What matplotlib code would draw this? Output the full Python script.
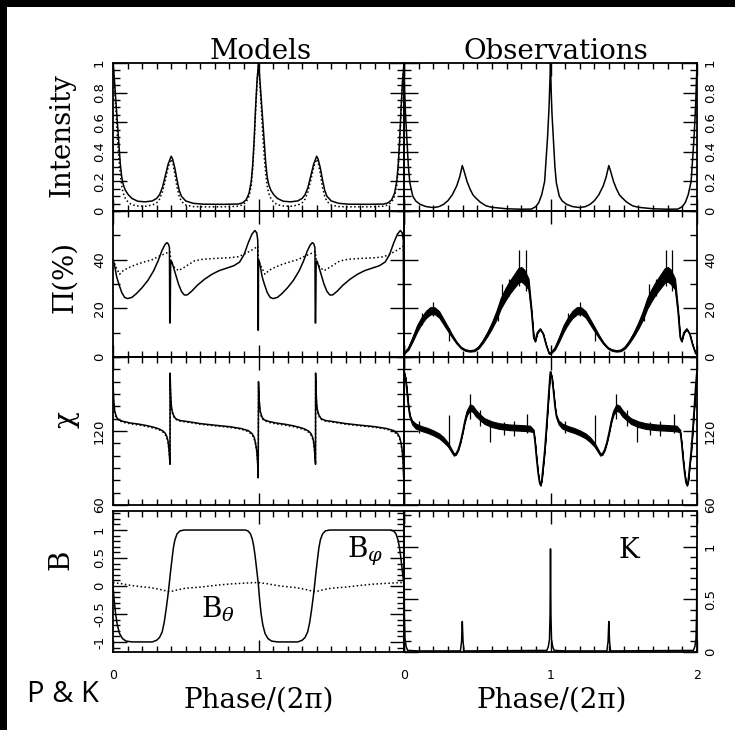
import numpy as np
import matplotlib
matplotlib.use("Agg")
import matplotlib.pyplot as plt
from matplotlib.patches import Rectangle
from matplotlib.ticker import FixedLocator, MultipleLocator, FixedFormatter

plt.rcParams["mathtext.fontset"] = "dejavuserif"

# ---------------- data (one rotation cycle, phase 0..1; the star repeats it) ----------------
# Intensity, models
int_mod_x = [0.0, 0.01, 0.02, 0.03, 0.04, 0.05, 0.06, 0.07, 0.085, 0.105, 0.13, 0.17, 0.22, 0.27,
             0.30, 0.32, 0.34, 0.36, 0.38, 0.40, 0.41, 0.425, 0.44, 0.455, 0.47, 0.50, 0.55, 0.62,
             0.75, 0.86, 0.89, 0.915, 0.935, 0.95, 0.96, 0.97, 0.98, 0.99]
int_mod_solid = [1.0, 0.88, 0.74, 0.60, 0.46, 0.32, 0.23, 0.18, 0.14, 0.11, 0.085, 0.066, 0.062, 0.068,
                 0.085, 0.11, 0.16, 0.24, 0.32, 0.37, 0.35, 0.29, 0.21, 0.14, 0.10, 0.068, 0.052, 0.046,
                 0.045, 0.047, 0.055, 0.075, 0.12, 0.20, 0.31, 0.48, 0.70, 0.88]
int_mod_dot = [1.0, 0.85, 0.68, 0.50, 0.36, 0.25, 0.17, 0.12, 0.085, 0.058, 0.042, 0.034, 0.032, 0.040,
               0.055, 0.08, 0.13, 0.21, 0.30, 0.35, 0.33, 0.25, 0.16, 0.10, 0.065, 0.040, 0.030, 0.028,
               0.028, 0.032, 0.042, 0.06, 0.10, 0.17, 0.28, 0.45, 0.67, 0.87]

# Intensity, observations
int_obs_x = [0.0, 0.005, 0.01, 0.02, 0.03, 0.04, 0.06, 0.08, 0.11, 0.15, 0.20, 0.24, 0.27, 0.30, 0.33,
             0.36, 0.38, 0.398, 0.41, 0.43, 0.45, 0.47, 0.49, 0.52, 0.56, 0.60, 0.70, 0.80, 0.87, 0.90,
             0.92, 0.94, 0.96, 0.98, 0.99, 0.995]
int_obs_y = [1.0, 0.80, 0.66, 0.48, 0.30, 0.19, 0.10, 0.068, 0.045, 0.030, 0.023, 0.030, 0.045, 0.07, 0.11,
             0.17, 0.23, 0.307, 0.27, 0.20, 0.15, 0.11, 0.088, 0.06, 0.035, 0.025, 0.015, 0.012, 0.013, 0.03,
             0.057, 0.11, 0.20, 0.50, 0.70, 0.85]

# Polarisation degree, models
pi_mod_x = [0.0, 0.01, 0.025, 0.04, 0.06, 0.08, 0.10, 0.13, 0.16, 0.20, 0.24, 0.28, 0.31, 0.335, 0.355,
            0.37, 0.38, 0.388, 0.39, 0.393, 0.396, 0.40, 0.405, 0.415, 0.43, 0.45, 0.47, 0.49, 0.51,
            0.54, 0.58, 0.63, 0.68, 0.73, 0.78, 0.83, 0.87, 0.90, 0.93, 0.955, 0.975, 0.988, 0.995,
            0.997, 0.999]
pi_mod_solid = [40, 38, 33, 30, 26.5, 24.5, 24, 24.5, 26, 28.5, 31.5, 35.5, 39.5, 43.5, 46,
                47, 46.5, 45, 14, 14, 38, 39.5, 39, 37, 34, 30, 27, 25.5, 25.5,
                27, 29.5, 32, 34, 35.5, 36.5, 37.5, 39, 42, 47, 50.5, 52, 51, 48,
                11, 11]
pi_mod_dot_x = [0.0, 0.02, 0.045, 0.07, 0.10, 0.15, 0.20, 0.27, 0.32, 0.36, 0.39, 0.40, 0.42, 0.45,
                0.48, 0.52, 0.56, 0.62, 0.70, 0.80, 0.86, 0.90, 0.94, 0.97, 0.995]
pi_mod_dot = [40, 37, 34, 35.5, 36.5, 37.8, 38.8, 40, 41.5, 42.5, 43.3, 39, 37, 35.5,
              36.5, 38, 39.5, 40.2, 40.5, 40.8, 41.2, 42.2, 43.5, 44.5, 45.5]

# Polarisation degree, observations (mean curve and half-width of the noisy band)
pi_obs_x = [0.0, 0.03, 0.06, 0.09, 0.12, 0.15, 0.18, 0.21, 0.24, 0.27, 0.30, 0.33, 0.36, 0.39, 0.42,
            0.45, 0.48, 0.51, 0.54, 0.57, 0.60, 0.63, 0.66, 0.69, 0.72, 0.75, 0.78, 0.80, 0.82, 0.85,
            0.87, 0.885, 0.895, 0.91, 0.93, 0.95, 0.97, 0.99]
pi_obs_y = [1.5, 3.5, 7.5, 11.8, 15.0, 17.5, 19.0, 19.0, 17.5, 14.5, 11.5, 8.5, 5.8, 3.8, 2.8,
            2.5, 2.7, 4.0, 6.5, 9.5, 13.0, 17.0, 22.0, 25.5, 28.5, 31.0, 33.5, 34.0, 33.0, 30.0,
            19.0, 8.0, 6.5, 10.0, 11.5, 9.5, 5.0, 1.5]
pi_obs_w = [0.2, 0.5, 1.0, 1.4, 1.4, 1.5, 1.5, 1.4, 1.3, 1.1, 0.9, 0.6, 0.4, 0.3, 0.3,
            0.3, 0.3, 0.4, 0.6, 0.9, 1.3, 1.8, 2.2, 2.5, 2.6, 2.8, 3.0, 3.0, 3.0, 2.2,
            0.9, 0.3, 0.2, 0.2, 0.2, 0.2, 0.2, 0.2]
pi_spike_x = [0.12, 0.20, 0.306, 0.64, 0.67, 0.72, 0.785, 0.83]
pi_spike_lo = [13, 17, 6.5, 15, 21, 25, 29, 27]
pi_spike_hi = [18, 22.5, 12, 20, 30, 32, 44, 44]

# Polarisation angle, models
chi_mod_x = [0.0, 0.005, 0.012, 0.025, 0.04, 0.07, 0.12, 0.18, 0.24, 0.29, 0.32, 0.345, 0.36, 0.37,
             0.378, 0.384, 0.389, 0.392, 0.3925, 0.396, 0.40, 0.405, 0.415, 0.43, 0.46, 0.52, 0.60,
             0.70, 0.80, 0.88, 0.93, 0.955, 0.97, 0.98, 0.988, 0.994, 0.998]
chi_mod_solid = [160, 145, 136, 131, 129, 127.8, 126.5, 125.5, 124.2, 122.7, 121.5, 119.8, 118, 115.5,
                 112, 106, 98, 93, 167, 152, 142, 137, 133, 130, 128.5, 127.5, 126,
                 124.7, 123.5, 122, 120.3, 118, 115, 110, 104, 94, 82]
chi_mod_dot = [155, 142, 134, 130, 128.5, 127, 125.8, 124.8, 123.5, 122, 120.8, 119, 117, 114.5,
               111, 105, 98, 95, 160, 148, 140, 135.5, 132, 129.5, 128, 127, 125.5,
               124.2, 123, 121.5, 119.5, 117, 114, 109, 103, 95, 86]

# Polarisation angle, observations
chi_obs_x = [0.0, 0.01, 0.02, 0.03, 0.04, 0.055, 0.08, 0.12, 0.16, 0.20, 0.24, 0.27, 0.30, 0.32, 0.34,
             0.355, 0.37, 0.385, 0.40, 0.415, 0.43, 0.45, 0.47, 0.49, 0.52, 0.55, 0.60, 0.65, 0.72,
             0.80, 0.86, 0.885, 0.895, 0.905, 0.915, 0.925, 0.932, 0.94, 0.95, 0.96, 0.97, 0.98,
             0.99, 0.997]
chi_obs_y = [168, 163, 152, 140, 132, 127, 124, 122, 120.5, 118.5, 116, 113, 109, 105, 101,
             101.5, 105, 111, 119, 128, 135, 139, 138, 134.5, 131, 128, 125.5, 124, 123,
             122.5, 122, 120, 110, 97, 86, 78, 76, 80, 92, 104, 120, 137,
             155, 166]
chi_obs_w = [0.4, 0.4, 0.4, 0.6, 1.0, 1.6, 2.0, 2.0, 2.0, 2.0, 2.0, 2.0, 1.6, 1.3, 1.0,
             0.7, 0.6, 0.6, 0.7, 1.0, 2.0, 2.6, 2.6, 2.6, 2.3, 2.3, 2.3, 2.3, 2.3,
             2.3, 2.3, 1.0, 0.4, 0.4, 0.4, 0.4, 0.4, 0.4, 0.4, 0.4, 0.4, 0.4,
             0.4, 0.4]
chi_spike_x = [0.10, 0.306, 0.45, 0.52, 0.59, 0.68, 0.75, 0.84]
chi_spike_lo = [118, 107, 130, 124, 111, 117, 116, 118]
chi_spike_hi = [128, 133, 150, 137, 126, 127, 128, 134]

# Magnetic field components, models
b_phi_x = [0.0, 0.008, 0.018, 0.03, 0.045, 0.065, 0.09, 0.13, 0.27, 0.30, 0.32, 0.338, 0.352, 0.365,
           0.377, 0.385, 0.393, 0.405, 0.415, 0.425, 0.44, 0.46, 0.49, 0.91, 0.93, 0.945, 0.958,
           0.968, 0.977, 0.985, 0.993]
b_phi = [0.0, -0.25, -0.5, -0.7, -0.85, -0.94, -0.985, -1.0, -1.0, -0.97, -0.92, -0.82, -0.65, -0.42,
         -0.18, 0.0, 0.2, 0.47, 0.68, 0.82, 0.93, 0.985, 1.0, 1.0, 0.98, 0.93, 0.83,
         0.7, 0.53, 0.35, 0.17]
b_theta_x = [0.0, 0.05, 0.10, 0.15, 0.20, 0.26, 0.32, 0.36, 0.385, 0.41, 0.45, 0.50, 0.60, 0.70, 0.80,
             0.90, 0.97]
b_theta = [0.06, 0.045, 0.02, 0.0, -0.015, -0.03, -0.06, -0.085, -0.10, -0.09, -0.065, -0.04, -0.02,
           0.01, 0.035, 0.05, 0.06]

# K, observations
k_x = [0.0, 0.003, 0.007, 0.015, 0.025, 0.10, 0.385, 0.393, 0.398, 0.403, 0.41, 0.975, 0.985, 0.993, 0.997]
k_y = [0.98, 0.35, 0.12, 0.05, 0.015, 0.01, 0.01, 0.1, 0.29, 0.1, 0.01, 0.015, 0.05, 0.12, 0.35]


def two_cycles(x, y):
    x = np.asarray(x, float)
    y = np.asarray(y, float)
    return np.concatenate([x, x + 1.0, [2.0]]), np.concatenate([y, y, y[:1]])


def two_cycles_pts(x, *vals):
    x = np.asarray(x, float)
    out = [np.concatenate([x, x + 1.0])]
    for v in vals:
        v = np.asarray(v, float)
        out.append(np.concatenate([v, v]))
    return out


# ---------------- figure ----------------
W, H = 735, 730
fig = plt.figure(figsize=(W / 100, H / 100), dpi=100)
fig.patch.set_facecolor("white")
# black strips along the top and left edges of the scan
fig.add_artist(Rectangle((0, 1 - 7 / H), 1, 7 / H, transform=fig.transFigure,
                         facecolor="black", edgecolor="none", zorder=-10))
fig.add_artist(Rectangle((0, 0), 7 / W, 1, transform=fig.transFigure,
                         facecolor="black", edgecolor="none", zorder=-10))


def px_rect(x0, y0, x1, y1):
    return [x0 / W, 1 - y1 / H, (x1 - x0) / W, (y1 - y0) / H]


cols = [(113, 404), (404, 697)]
rows = [(63, 211), (211, 357), (357, 505), (511, 652)]
axs = [[fig.add_axes(px_rect(c[0], r[0], c[1], r[1])) for c in cols] for r in rows]

LW = 1.1
DOT = (0, (1.0, 1.6))

# row 0: intensity
x, y = two_cycles(int_mod_x, int_mod_solid)
axs[0][0].plot(x, y, color="black", lw=LW)
x, y = two_cycles(int_mod_x, int_mod_dot)
axs[0][0].plot(x, y, color="black", lw=LW, ls=DOT)
x, y = two_cycles(int_obs_x, int_obs_y)
axs[0][1].plot(x, y, color="black", lw=LW)

# row 1: polarisation degree
x, y = two_cycles(pi_mod_x, pi_mod_solid)
axs[1][0].plot(x, y, color="black", lw=LW)
x, y = two_cycles(pi_mod_dot_x, pi_mod_dot)
axs[1][0].plot(x, y, color="black", lw=LW, ls=DOT)
x, y = two_cycles(pi_obs_x, pi_obs_y)
_, w = two_cycles(pi_obs_x, pi_obs_w)
axs[1][1].fill_between(x, y - w, y + w, color="black", lw=0.8)
axs[1][1].plot(x, y, color="black", lw=LW)
sx, lo, hi = two_cycles_pts(pi_spike_x, pi_spike_lo, pi_spike_hi)
axs[1][1].vlines(sx, lo, hi, color="black", lw=0.9)

# row 2: polarisation angle
x, y = two_cycles(chi_mod_x, chi_mod_solid)
axs[2][0].plot(x, y, color="black", lw=LW)
x, y = two_cycles(chi_mod_x, chi_mod_dot)
axs[2][0].plot(x, y, color="black", lw=LW, ls=DOT)
x, y = two_cycles(chi_obs_x, chi_obs_y)
_, w = two_cycles(chi_obs_x, chi_obs_w)
axs[2][1].fill_between(x, y - w, y + w, color="black", lw=0.8)
axs[2][1].plot(x, y, color="black", lw=LW)
sx, lo, hi = two_cycles_pts(chi_spike_x, chi_spike_lo, chi_spike_hi)
axs[2][1].vlines(sx, lo, hi, color="black", lw=0.9)

# row 3: B and K
x, y = two_cycles(b_phi_x, b_phi)
axs[3][0].plot(x, y, color="black", lw=LW)
x, y = two_cycles(b_theta_x, b_theta)
axs[3][0].plot(x, y, color="black", lw=LW, ls=DOT)
x, y = two_cycles(k_x, k_y)
axs[3][1].plot(x, y, color="black", lw=LW)

# ---------------- axes styling ----------------
ylims = [[(0, 1), (0, 1)], [(0, 60), (0, 60)], [(60, 180), (60, 180)], [(-1.18, 1.34), (0, 1.34)]]
yticks = [[[0, 0.2, 0.4, 0.6, 0.8, 1]] * 2, [[0, 20, 40]] * 2, [[60, 120]] * 2,
          [[-1, -0.5, 0, 0.5, 1], [0, 0.5, 1]]]
ylabels = [[["0", "0.2", "0.4", "0.6", "0.8", "1"]] * 2, [["0", "20", "40"]] * 2, [["60", "120"]] * 2,
           [["-1", "-0.5", "0", "0.5", "1"], ["0", "0.5", "1"]]]
yminor = [[0.05, 0.05], [10, 10], [10, 10], [0.1, 0.1]]

for r in range(4):
    for c in range(2):
        ax = axs[r][c]
        ax.set_facecolor("none")
        ax.set_xlim(0, 2)
        ax.set_ylim(*ylims[r][c])
        ax.xaxis.set_major_locator(FixedLocator([0, 1, 2]))
        ax.xaxis.set_minor_locator(MultipleLocator(0.1))
        ax.yaxis.set_major_locator(FixedLocator(yticks[r][c]))
        ax.yaxis.set_major_formatter(FixedFormatter(ylabels[r][c]))
        ax.yaxis.set_minor_locator(MultipleLocator(yminor[r][c]))
        for s in ax.spines.values():
            s.set_linewidth(1.3)
        ax.tick_params(which="both", direction="in", top=True, right=True, bottom=True, left=True,
                       width=1.0, color="black")
        ax.tick_params(axis="x", which="major", length=9)
        ax.tick_params(axis="x", which="minor", length=4.5)
        ax.tick_params(axis="y", which="major", length=10)
        ax.tick_params(axis="y", which="minor", length=5)
        ax.tick_params(axis="y", labelleft=(c == 0), labelright=(c == 1), labelsize=9.5, pad=5)
        for lbl in ax.get_yticklabels():
            lbl.set_rotation(90)
            lbl.set_va("center")
        if r == 3:
            ax.xaxis.set_major_formatter(FixedFormatter(["0", "1", ""] if c == 0 else ["0", "1", "2"]))
            ax.tick_params(axis="x", labelbottom=True, labelsize=9, pad=12)
        else:
            ax.tick_params(axis="x", labelbottom=False)


def ftext(xp, yp, s, **kw):
    fig.text(xp / W, 1 - yp / H, s, **kw)


SERIF = dict(family="DejaVu Serif", fontsize=20, color="black")
ftext(261, 59, "Models", ha="center", va="baseline", **SERIF)
ftext(556, 59, "Observations", ha="center", va="baseline", **SERIF)
ftext(259, 708, "Phase/(2\u03c0)", ha="center", va="baseline", **SERIF)
ftext(552, 708, "Phase/(2\u03c0)", ha="center", va="baseline", **SERIF)
ftext(62, 135, "Intensity", ha="center", va="center", rotation=90, **SERIF)
ftext(65, 277, "\u03a0(%)", ha="center", va="center", rotation=90, **SERIF)
ftext(66, 420, "\u03c7", ha="center", va="center", rotation=90, **SERIF)
ftext(61, 560, "B", ha="center", va="center", rotation=90, **SERIF)
ftext(347, 557, r"B$_{\varphi}$", ha="left", va="baseline", **SERIF)
ftext(201, 618, r"B$_{\theta}$", ha="left", va="baseline", **SERIF)
ftext(619, 558, "K", ha="left", va="baseline", **SERIF)
ftext(27, 702, "P & K", ha="left", va="baseline", family="Open Sans", fontsize=21, color="black")

fig.savefig("out.png", dpi=100, facecolor="white")
